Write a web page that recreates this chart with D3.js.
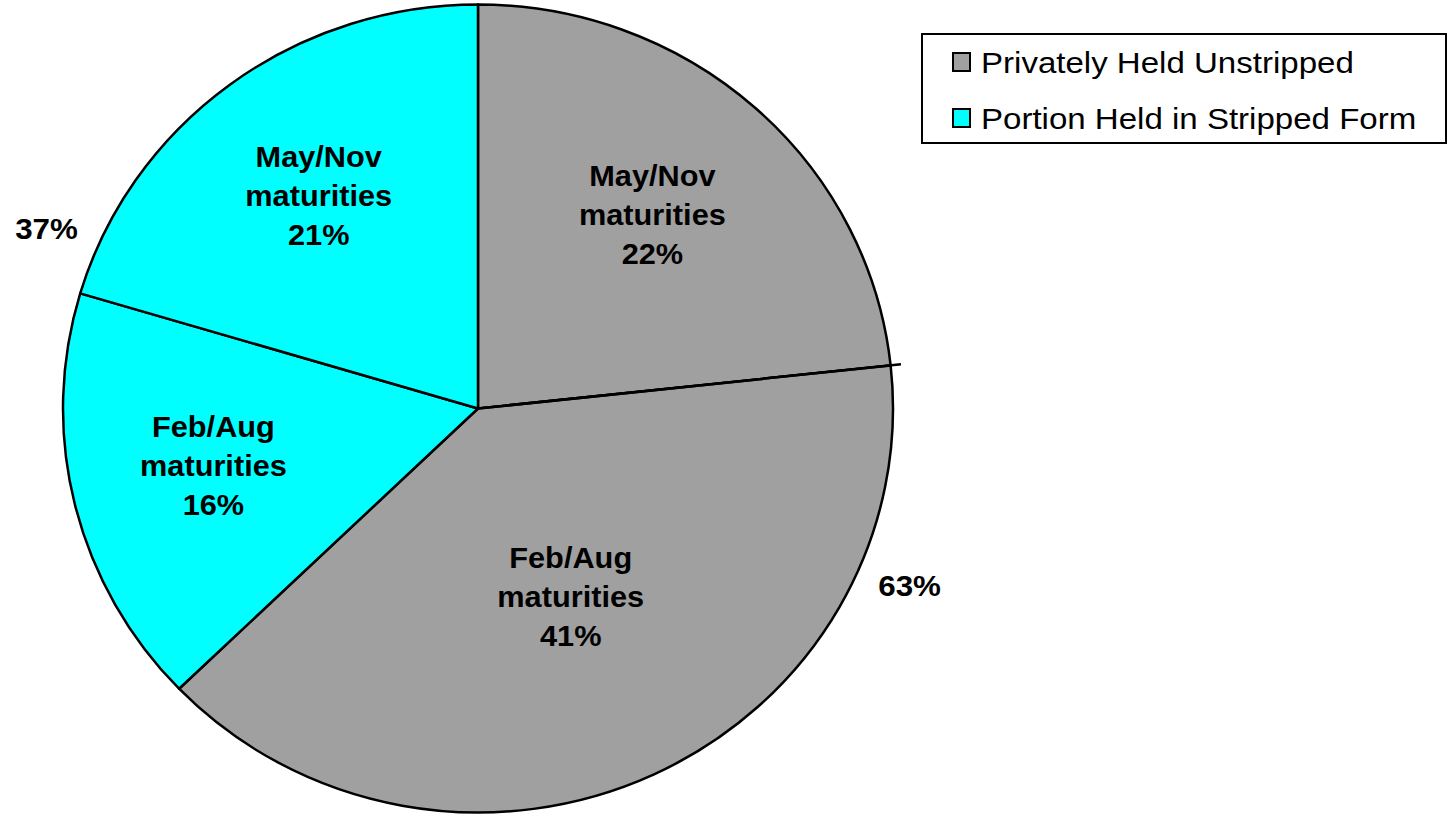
<!DOCTYPE html>
<html>
<head>
<meta charset="utf-8">
<script src="https://cdn.jsdelivr.net/npm/d3@7"></script>
<style>
  body { margin: 0; background: #fff; }
  text { font-family: "Liberation Sans", Arial, sans-serif; fill: #000; }
</style>
</head>
<body>
<div id="chart"></div>
<script>
// slice shares as drawn (clockwise from 12 o'clock)
var sliceName = ["May/Nov", "Feb/Aug", "Feb/Aug", "May/Nov"];
var sliceShare = [23.3, 39.5, 16.8, 20.4];
var sliceLabel = ["22%", "41%", "16%", "21%"];
var sliceGroup = ["Privately Held Unstripped", "Privately Held Unstripped",
                  "Portion Held in Stripped Form", "Portion Held in Stripped Form"];
var groups = ["Privately Held Unstripped", "Portion Held in Stripped Form"];
var groupLabel = ["63%", "37%"];
var groupColors = ["#A0A0A0", "#00FFFF"];

var svgwidth = 1450;
var svgheight = 815;
var cx = 478, cy = 408.5;
var rx = 415, ry = 404;

var svg = d3
  .select("#chart")
  .append("svg")
  .attr("width", svgwidth)
  .attr("height", svgheight);

var color = d3.scaleOrdinal().domain(groups).range(groupColors);

var data = sliceShare.map(function (v, i) {
  return { name: sliceName[i], value: v, label: sliceLabel[i], group: sliceGroup[i] };
});

var pie = d3.pie().value((d) => d.value).sort(null);
var arcs = pie(data);
var arc = d3.arc().innerRadius(0).outerRadius(ry);

// pie is slightly wider than tall, so stretch it horizontally
var g = svg
  .append("g")
  .attr("transform", "translate(" + cx + "," + cy + ") scale(" + rx / ry + ",1)");

g.selectAll("path")
  .data(arcs)
  .join("path")
  .attr("d", arc)
  .attr("fill", (d) => color(d.data.group))
  .attr("stroke", "#000")
  .attr("stroke-width", 2.5)
  .attr("stroke-linejoin", "round")
  .attr("vector-effect", "non-scaling-stroke");

// first divider runs a little past the rim
var a0 = arcs[0].endAngle;
g.append("line")
  .attr("x1", 0)
  .attr("y1", 0)
  .attr("x2", Math.sin(a0) * ry * 1.025)
  .attr("y2", -Math.cos(a0) * ry * 1.025)
  .attr("stroke", "#000")
  .attr("stroke-width", 2.5)
  .attr("vector-effect", "non-scaling-stroke");

function pt(angle, k) {
  return [cx + Math.sin(angle) * rx * k, cy - Math.cos(angle) * ry * k];
}

// label sits near the sector's area centroid
function centroidK(d) {
  var half = (d.endAngle - d.startAngle) / 2;
  return (2 * Math.sin(half)) / (3 * half) + 0.02;
}

// inner labels
var lbl = svg
  .append("g")
  .selectAll("g")
  .data(arcs)
  .join("g")
  .attr("transform", function (d) {
    var p = pt((d.startAngle + d.endAngle) / 2, centroidK(d));
    return "translate(" + p[0] + "," + p[1] + ") scale(1.06,1)";
  })
  .append("text")
  .attr("text-anchor", "middle")
  .style("font-size", "29px")
  .style("font-weight", "700");

lbl.each(function (d) {
  var t = d3.select(this);
  [d.data.name, "maturities", d.data.label].forEach(function (s, i) {
    t.append("tspan")
      .attr("x", 0)
      .attr("y", (i - 1) * 39 + 5)
      .text(s);
  });
});

// group totals outside the pie
var groupArcs = groups.map(function (gname, gi) {
  var sl = arcs.filter((d) => d.data.group === gname);
  return {
    start: d3.min(sl, (d) => d.startAngle),
    end: d3.max(sl, (d) => d.endAngle),
    label: groupLabel[gi]
  };
});

svg
  .append("g")
  .selectAll("g")
  .data(groupArcs)
  .join("g")
  .attr("transform", function (d) {
    var p = pt((d.start + d.end) / 2, 1.13);
    return "translate(" + p[0] + "," + (p[1] + 9) + ") scale(1.08,1)";
  })
  .append("text")
  .attr("text-anchor", "middle")
  .style("font-size", "29px")
  .style("font-weight", "700")
  .text((d) => d.label);

// legend
var legend = svg.append("g").attr("transform", "translate(922,34)");

legend
  .append("rect")
  .attr("width", 524)
  .attr("height", 109)
  .attr("fill", "#fff")
  .attr("stroke", "#000")
  .attr("stroke-width", 2);

var item = legend
  .selectAll(".legend")
  .data(groups)
  .join("g")
  .attr("class", "legend")
  .attr("transform", (d, i) => "translate(0," + (i * 56) + ")");

item
  .append("rect")
  .attr("x", 31)
  .attr("y", 19)
  .attr("width", 17)
  .attr("height", 18)
  .attr("fill", (d) => color(d))
  .attr("stroke", "#000")
  .attr("stroke-width", 2);

item
  .append("text")
  .attr("transform", "translate(59,39) scale(1.14,1)")
  .style("font-size", "29px")
  .text((d) => d);
</script>
</body>
</html>
